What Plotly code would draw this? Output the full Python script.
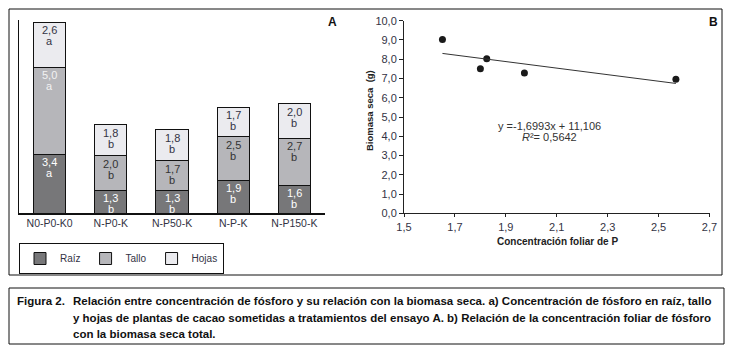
import plotly.graph_objects as go

W, H = 732, 355

# ---- Panel A data ----
treatments = ["N0-P0-K0", "N-P0-K", "N-P50-K", "N-P-K", "N-P150-K"]
raiz = [3.4, 1.3, 1.3, 1.9, 1.6]
tallo = [5.0, 2.0, 1.7, 2.5, 2.7]
hojas = [2.6, 1.8, 1.8, 1.7, 2.0]
raiz_letters = ["a", "b", "b", "b", "b"]
tallo_letters = ["a", "b", "b", "b", "b"]
hojas_letters = ["a", "b", "b", "b", "b"]

# ---- Panel B data ----
p_foliar = [1.651, 1.800, 1.825, 1.973, 2.568]
biomasa = [9.03, 7.51, 8.03, 7.28, 6.96]
slope, intercept, r2 = -1.6993, 11.106, 0.5642
x_ticks = [1.5, 1.7, 1.9, 2.1, 2.3, 2.5, 2.7]
y_ticks = [0, 1, 2, 3, 4, 5, 6, 7, 8, 9, 10]

caption_lines = [
    "Relación entre concentración de fósforo y su relación con la biomasa seca. a) Concentración de fósforo en raíz, tallo",
    "y hojas de plantas de cacao sometidas a tratamientos del ensayo A. b) Relación de la concentración foliar de fósforo",
    "con la biomasa seca total.",
]

FONT = "Liberation Sans, Arial, Helvetica, sans-serif"

def px(x):
    return x / W

def py(y):
    return 1 - y / H

fig = go.Figure()

seg_colors = {"Raíz": "#777779", "Tallo": "#b6b6ba", "Hojas": "#ebebef"}
series = [("Raíz", raiz, raiz_letters), ("Tallo", tallo, tallo_letters), ("Hojas", hojas, hojas_letters)]
for name, vals, _ in series:
    fig.add_trace(go.Bar(
        x=treatments, y=vals, name=name,
        marker=dict(color=seg_colors[name], line=dict(color="#111111", width=1)),
        xaxis="x", yaxis="y",
    ))

# segment labels (value + letter) placed at the top of each segment
cum = [0.0] * len(treatments)
txtcol = {"Raíz": ["white"] * 5, "Tallo": ["#f2f2f2", "#333333", "#333333", "#333333", "#333333"],
          "Hojas": ["#333344"] * 5}
annotations = []
for name, vals, letters in series:
    for i, (t, v) in enumerate(zip(treatments, vals)):
        top = cum[i] + v
        cum[i] = top
        lab = f"{v:.1f}".replace(".", ",")
        for txt, sh in ((lab, 0), (letters[i], -11)):
            annotations.append(dict(
                x=t, y=top, xref="x", yref="y", text=txt, showarrow=False,
                xanchor="center", yanchor="top", yshift=sh,
                font=dict(family=FONT, size=11, color=txtcol[name][i]),
            ))

# Panel B scatter and trend line
fig.add_trace(go.Scatter(
    x=p_foliar, y=biomasa, mode="markers", showlegend=False,
    marker=dict(color="#1a1a1a", size=7), xaxis="x2", yaxis="y2",
))
xmin, xmax = min(p_foliar), max(p_foliar)
fig.add_trace(go.Scatter(
    x=[xmin, xmax], y=[slope * xmin + intercept, slope * xmax + intercept],
    mode="lines", showlegend=False, line=dict(color="#333333", width=1),
    xaxis="x2", yaxis="y2",
))


def note(x, y, text, size, color="#222222", bold=False, xanchor="center", **kw):
    return dict(x=px(x), y=py(y), xref="paper", yref="paper",
                text=f"<b>{text}</b>" if bold else text, showarrow=False,
                xanchor=xanchor, yanchor="middle",
                font=dict(family=FONT, size=size, color=color), **kw)


fmt = lambda v, n: f"{v:.{n}f}".replace(".", ",")
eq = f"y ={fmt(slope, 4)}x + {fmt(intercept, 3)}"
annotations += [
    note(549, 126.5, eq, 11, "#333333"),
    note(549, 137.5, f"<i>R</i>²= {fmt(r2, 4)}", 11, "#333333"),
    note(369, 110, "Biomasa seca  (g)", 9.5, bold=True, textangle=-90),
    note(557, 241, "Concentración foliar de P", 10, bold=True),
    note(332, 22, "A", 12, "#111111", bold=True),
    note(713, 22, "B", 12, "#111111", bold=True),
    note(15, 301, "Figura 2.", 11.5, "#111111", bold=True, xanchor="left"),
]
for line, yy in zip(caption_lines, [301, 317.5, 334]):
    annotations.append(note(71, yy, line, 11.5, "#111111", bold=True, xanchor="left", align="left"))

shapes = [
    dict(type="rect", xref="paper", yref="paper", x0=px(9), x1=px(722), y0=py(9), y1=py(275),
         line=dict(color="#111111", width=1)),
    dict(type="rect", xref="paper", yref="paper", x0=px(9), x1=px(724), y0=py(288), y1=py(344),
         line=dict(color="#111111", width=1)),
]

fig.update_layout(
    width=W, height=H, margin=dict(l=0, r=0, t=0, b=0, autoexpand=False),
    paper_bgcolor="white", plot_bgcolor="white",
    separators=",.",
    barmode="stack", bargap=0.475,
    font=dict(family=FONT, size=11, color="#222222"),
    xaxis=dict(domain=[px(19), px(325)], range=[-0.5, 4.5], showline=True, linecolor="#111111",
               linewidth=1.5, ticks="", showgrid=False, zeroline=False,
               tickfont=dict(family=FONT, size=10.5, color="#333344")),
    yaxis=dict(domain=[py(213), py(20)], range=[0, 11.13], showline=True, linecolor="#111111",
               linewidth=1, showticklabels=False, ticks="", showgrid=False, zeroline=False),
    xaxis2=dict(domain=[px(404), px(709.5)], range=[1.5, 2.7], anchor="y2", tickvals=x_ticks,
                tickformat=".1f", showline=True, linecolor="#222222", linewidth=1, ticks="outside",
                ticklen=3, tickcolor="#222222", showgrid=False, zeroline=False,
                tickfont=dict(family=FONT, size=11, color="#333344")),
    yaxis2=dict(domain=[py(213.3), py(20.7)], range=[0, 10], anchor="x2", tickvals=y_ticks,
                tickformat=".1f", showline=True, linecolor="#222222", linewidth=1, ticks="outside",
                ticklen=4, tickcolor="#222222", showgrid=False, zeroline=False,
                tickfont=dict(family=FONT, size=11, color="#333344")),
    legend=dict(orientation="h", x=px(19), y=py(243), xanchor="left", yanchor="top",
                bordercolor="#111111", borderwidth=1, bgcolor="white",
                font=dict(family=FONT, size=10, color="#333344"), itemwidth=30,
                traceorder="normal", tracegroupgap=0),
    annotations=annotations, shapes=shapes,
)

fig.write_html("out.html", config={"displayModeBar": False},
               post_script="document.body.style.margin='0';")
